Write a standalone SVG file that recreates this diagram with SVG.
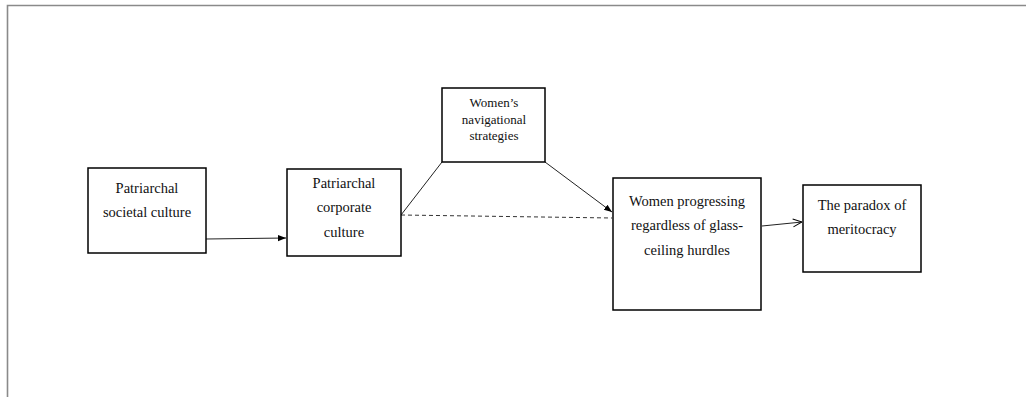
<svg xmlns="http://www.w3.org/2000/svg" width="1026" height="397" viewBox="0 0 1026 397">
<style>
.box{fill:#fff;stroke:#000;stroke-width:1.5}
.t{font-family:"Liberation Serif","Times New Roman",serif;font-size:14.5px;fill:#111;text-anchor:middle}
.s{font-size:13px}
.c{stroke:#222;stroke-width:1;fill:none}
.d{stroke:#333;stroke-width:1;fill:none;stroke-dasharray:4 3}
.frame{stroke:#8a8a8a;stroke-width:1.6;fill:none}
</style>
<defs>
<marker id="fill" viewBox="0 0 10 10" refX="10" refY="5" markerWidth="8" markerHeight="8" markerUnits="userSpaceOnUse" orient="auto">
<path d="M0,1 L10,5 L0,9 z" fill="#000"/>
</marker>
<marker id="open" viewBox="0 0 10 10" refX="10" refY="5" markerWidth="10" markerHeight="10" markerUnits="userSpaceOnUse" orient="auto">
<path d="M1,1 L10,5 L1,9" fill="none" stroke="#000" stroke-width="1"/>
</marker>
</defs>
<rect width="1026" height="397" fill="#fff"/>
<path class="frame" d="M7.5,397 L7.5,5.5 L1026,5.5"/>
<g id="connectors">
<line class="c" x1="206" y1="239" x2="286" y2="238" marker-end="url(#fill)"/>
<line class="c" x1="442" y1="162" x2="401" y2="215"/>
<line class="d" x1="401" y1="215" x2="612" y2="218"/>
<line class="c" x1="545" y1="162" x2="612" y2="212" marker-end="url(#fill)"/>
<line class="c" x1="762" y1="226" x2="802" y2="222" marker-end="url(#open)"/>
</g>
<g id="node-societal">
<rect class="box" x="88" y="168" width="118" height="85"/>
<text class="t" x="147" y="193">Patriarchal</text>
<text class="t" x="147" y="217">societal culture</text>
</g>
<g id="node-corporate">
<rect class="box" x="287" y="169" width="114" height="87"/>
<text class="t" x="344" y="188">Patriarchal</text>
<text class="t" x="344" y="212">corporate</text>
<text class="t" x="344" y="237">culture</text>
</g>
<g id="node-strategies">
<rect class="box" x="442" y="88" width="103" height="74"/>
<text class="t s" x="494" y="107">Women’s</text>
<text class="t s" x="494" y="124">navigational</text>
<text class="t s" x="494" y="140">strategies</text>
</g>
<g id="node-progressing">
<rect class="box" x="613" y="178" width="148" height="132"/>
<text class="t" x="687" y="206">Women progressing</text>
<text class="t" x="687" y="230">regardless of glass-</text>
<text class="t" x="687" y="255">ceiling hurdles</text>
</g>
<g id="node-paradox">
<rect class="box" x="803" y="185" width="118" height="87"/>
<text class="t" x="862" y="210">The paradox of</text>
<text class="t" x="862" y="234">meritocracy</text>
</g>
</svg>
